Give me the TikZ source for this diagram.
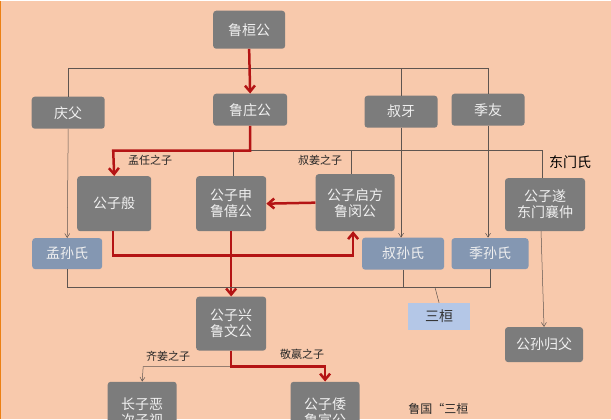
\documentclass[tikz,border=0pt]{standalone}
\usepackage{fontspec}
\setmainfont{Noto Sans CJK SC}
\usetikzlibrary{arrows.meta}
\definecolor{bg}{RGB}{248,201,172}
\definecolor{gbox}{RGB}{124,124,124}
\definecolor{bbox}{RGB}{132,151,178}
\definecolor{lbox}{RGB}{180,199,231}
\definecolor{rd}{RGB}{180,20,20}
\definecolor{ln}{RGB}{95,85,80}
\begin{document}
\begin{tikzpicture}[x=1pt,y=-1pt,
 gb/.style={fill=gbox,rounded corners=3pt,text=white!88!gray,font=\fontsize{14}{16}\selectfont,align=center,inner sep=0pt},
 bb/.style={gb,fill=bbox},
 lb/.style={fill=lbox,text=black!80,font=\fontsize{14}{16}\selectfont,inner sep=0pt},
 th/.style={draw=ln,line width=0.5pt},
 tha/.style={th,-{Straight Barb[length=4pt,width=5pt]}},
 red/.style={draw=rd,line width=2.5pt},
 reda/.style={red,-{Straight Barb[length=6pt,width=10pt]}},
 lab/.style={font=\fontsize{11}{13}\selectfont,text=black!85,inner sep=1pt}]
\fill[bg] (0,0) rectangle (611,418);
\draw[orange!70!brown,line width=1.5pt] (0.5,0)--(0.5,418);
\useasboundingbox (0,0) rectangle (611,418);
\node[gb,minimum width=72,minimum height=38] (hg) at (249,29) {鲁桓公};
\node[gb,minimum width=73,minimum height=32] (qf) at (68,112) {庆父};
\node[gb,minimum width=74,minimum height=32] (zg) at (250,109) {鲁庄公};
\node[gb,minimum width=73,minimum height=32] (sy) at (401,111) {叔牙};
\node[gb,minimum width=73,minimum height=32] (jy) at (488,109) {季友};
\node[gb,minimum width=74,minimum height=55] (gb1) at (114,203) {公子般};
\node[gb,minimum width=70,minimum height=55] (gs) at (231,203) {公子申\\鲁僖公};
\node[gb,minimum width=79,minimum height=57] (qfang) at (355,202) {公子启方\\鲁闵公};
\node[gb,minimum width=80,minimum height=53] (sui) at (545,204) {公子遂\\东门襄仲};
\node[bb,minimum width=70,minimum height=31] (ms) at (67,253) {孟孙氏};
\node[bb,minimum width=82,minimum height=32] (ss) at (403,253) {叔孙氏};
\node[bb,minimum width=77,minimum height=31] (js) at (490,253) {季孙氏};
\node[lb,minimum width=62,minimum height=27] (sh) at (439,316) {三桓};
\node[gb,minimum width=70,minimum height=54] (wg) at (231,323) {公子兴\\鲁文公};
\node[gb,minimum width=78,minimum height=35] (gf) at (544,344) {公孙归父};
\node[gb,minimum width=69,minimum height=60,anchor=north] (ze) at (142,381) {长子恶\\次子视};
\node[gb,minimum width=69,minimum height=60,anchor=north] (xg) at (325,381) {公子倭\\鲁宣公};
\node[lab] (l1) at (150,160) {孟任之子};
\node[lab] (l2) at (320,160) {叔姜之子};
\node[font=\fontsize{14}{16}\selectfont,inner sep=1pt] (l3) at (570,161) {东门氏};
\node[lab] (l4) at (168,356) {齐姜之子};
\node[lab] (l5) at (302,354) {敬嬴之子};
\node[font=\fontsize{12}{14}\selectfont,text=black!85,anchor=west,inner sep=0pt] (ti) at (408,408) {鲁国“三桓};
\draw[th] (qf.north)--(68,68)--(488,68)--(jy.north);
\draw[th] (401,68)--(sy.north);
\draw[reda] (hg.south)--(zg.north);
\draw[tha] (qf.south)--(ms.north);
\draw[tha] (sy.south)--(401,237);
\draw[tha] (jy.south)--(488,237);
\draw[th] (250,150)--(542,150)--(542,177);
\draw[th] (233,150)--(233,175.5);
\draw[th] (351,150)--(351,173.5);
\draw[reda] (zg.south)--(250,150)--(113,150)--(gb1.north);
\draw[reda] (qfang.west)--(gs.east);
\draw[reda] (113,230.5)--(113,255)--(353,255)--(353,230.5);
\draw[reda] (gs.south)--(wg.north);
\draw[th] (ms.south)--(67,287)--(490,287)--(js.south);
\draw[th] (ss.south)--(403,287);
\draw[th] (435,287)--(sh.north);
\draw[tha] (541,230.5)--(gf.north);
\draw[tha] (231,366)--(143,366)--(ze.north);
\draw[reda] (wg.south)--(231,366)--(325,366)--(xg.north);
\end{tikzpicture}
\end{document}
